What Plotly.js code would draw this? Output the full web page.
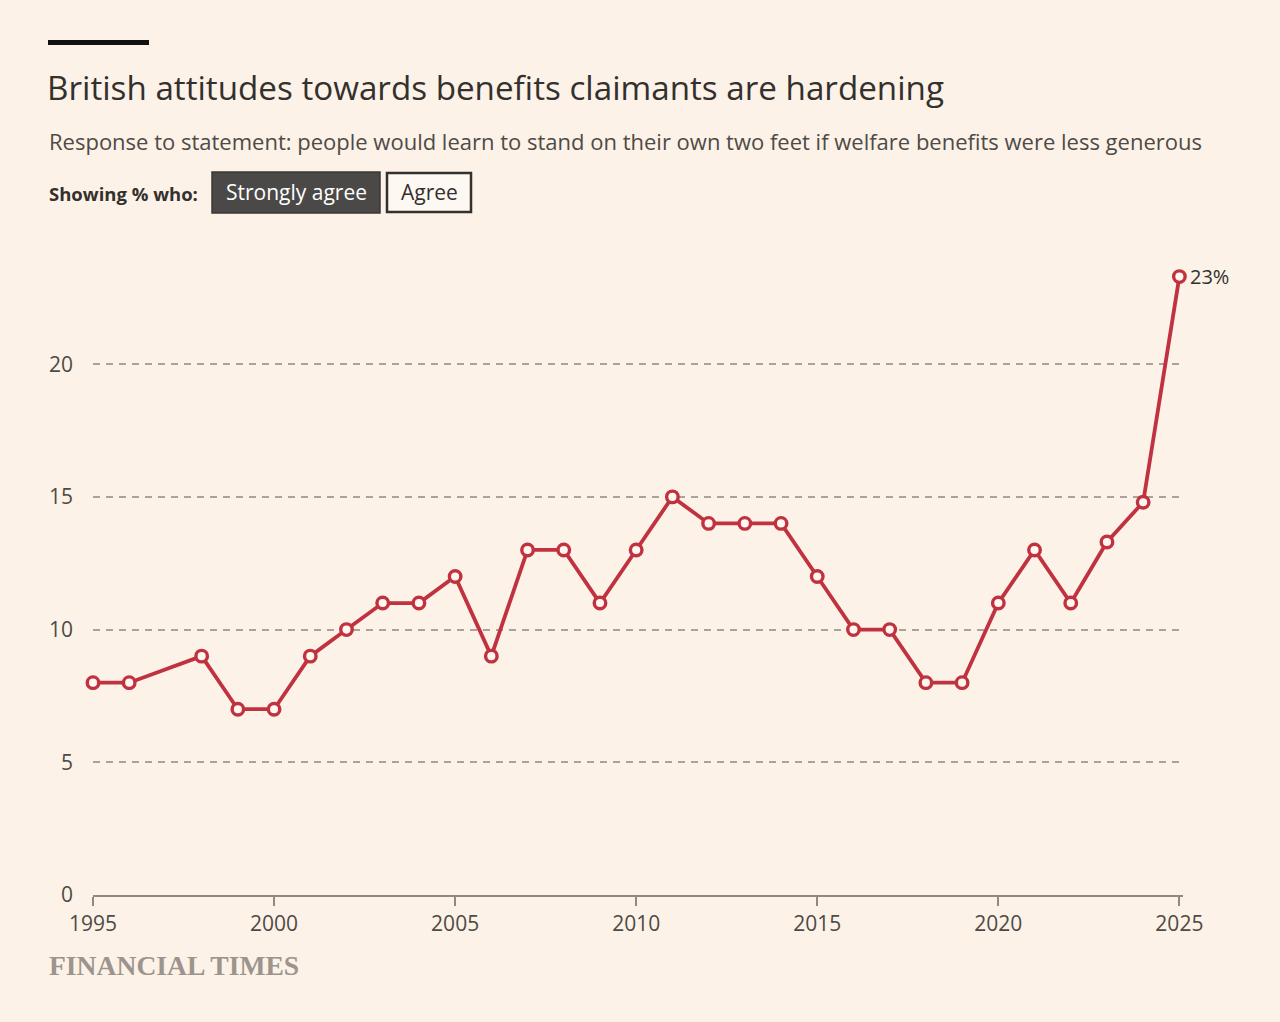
<!DOCTYPE html>
<html>
<head>
<meta charset="utf-8">
<script src="https://cdn.plot.ly/plotly-3.0.1.min.js"></script>
<style>
  html, body { margin: 0; padding: 0; background: #fcf2e7; }
  #chart { width: 1280px; height: 1022px; }
</style>
</head>
<body>
<div id="chart"></div>
<script>
// ---- Data ----
const years = [1995, 1996, 1998, 1999, 2000, 2001, 2002, 2003, 2004, 2005,
               2006, 2007, 2008, 2009, 2010, 2011, 2012, 2013, 2014, 2015,
               2016, 2017, 2018, 2019, 2020, 2021, 2022, 2023, 2024, 2025];
const stronglyAgree = [8, 8, 9, 7, 7, 9, 10, 11, 11, 12,
                       9, 13, 13, 11, 13, 15, 14, 14, 14, 12,
                       10, 10, 8, 8, 11, 13, 11, 13.3, 14.8, 23.3];
const yTickValues = [0, 5, 10, 15, 20];
const xTickValues = [1995, 2000, 2005, 2010, 2015, 2020, 2025];
const lastLabel = '23%';

// ---- Layout helpers ----
const W = 1280, H = 1022;
const M = { l: 93, r: 97, t: 258, b: 127 };
const PW = W - M.l - M.r, PH = H - M.t - M.b;
const px = X => (X - M.l) / PW;          // pixel x -> paper x
const py = Y => (H - M.b - Y) / PH;      // pixel y -> paper y

const red = '#c0323f';
const ink = '#33302e';
const bg = '#fcf2e7';
const sans = '"Open Sans", Lato, sans-serif';

const trace = {
  x: years,
  y: stronglyAgree,
  type: 'scatter',
  mode: 'lines+markers',
  line: { color: red, width: 3.8 },
  marker: { symbol: 'circle', size: 11.5, color: '#fff7f0', line: { color: red, width: 3.4 } },
  hoverinfo: 'x+y',
  cliponaxis: false
};

const layout = {
  width: W, height: H,
  paper_bgcolor: bg, plot_bgcolor: bg,
  margin: M,
  showlegend: false,
  font: { family: sans, color: ink },
  title: {
    text: 'British attitudes towards benefits claimants are hardening',
    font: { family: sans, size: 33.2, color: ink },
    xref: 'container', yref: 'container',
    x: 47 / W, xanchor: 'left',
    y: 1 - 88 / H, yanchor: 'middle'
  },
  xaxis: {
    range: [1995, 2025.1],
    tickvals: xTickValues,
    ticktext: xTickValues.map(String),
    showgrid: false, zeroline: false,
    showline: true, linecolor: '#8f8983', linewidth: 2,
    ticks: 'outside', ticklen: 9, tickwidth: 2, tickcolor: '#8f8983',
    tickfont: { family: sans, size: 21, color: '#4f4a46' },
    fixedrange: true
  },
  yaxis: {
    range: [0, 24],
    tickvals: yTickValues,
    ticktext: yTickValues.map(String),
    showgrid: true, gridcolor: '#aaa39c', gridwidth: 1.5, griddash: '7px,6px',
    zeroline: false, showline: false,
    ticks: '', ticklabelstandoff: 19,
    tickfont: { family: sans, size: 21, color: '#4f4a46' },
    fixedrange: true
  },
  shapes: [
    { type: 'rect', xref: 'paper', yref: 'paper',
      x0: px(48), x1: px(149), y0: py(45), y1: py(40),
      fillcolor: '#111', line: { width: 0 } },
    { type: 'rect', xref: 'paper', yref: 'paper',
      x0: px(212), x1: px(380), y0: py(213), y1: py(172),
      fillcolor: '#4b4947', line: { color: '#3a3836', width: 1.5 } },
    { type: 'rect', xref: 'paper', yref: 'paper',
      x0: px(387), x1: px(471), y0: py(212), y1: py(173),
      fillcolor: '#fef8f2', line: { color: ink, width: 2.5 } }
  ],
  annotations: [
    { xref: 'paper', yref: 'paper', x: px(47), y: py(141),
      xanchor: 'left', yanchor: 'middle', showarrow: false,
      text: 'Response to statement: people would learn to stand on their own two feet if welfare benefits were less generous',
      font: { size: 22, color: '#4f4a46' } },
    { xref: 'paper', yref: 'paper', x: px(47), y: py(193),
      xanchor: 'left', yanchor: 'middle', showarrow: false,
      text: '<b>Showing % who:</b>',
      font: { size: 18.5, color: ink } },
    { xref: 'paper', yref: 'paper', x: px(296), y: py(192),
      xanchor: 'center', yanchor: 'middle', showarrow: false,
      text: 'Strongly agree',
      font: { size: 21, color: '#ffffff' } },
    { xref: 'paper', yref: 'paper', x: px(429), y: py(192),
      xanchor: 'center', yanchor: 'middle', showarrow: false,
      text: 'Agree',
      font: { size: 21, color: ink } },
    { xref: 'x', yref: 'y', x: years[years.length - 1], y: stronglyAgree[stronglyAgree.length - 1],
      xanchor: 'left', yanchor: 'middle', xshift: 9, showarrow: false,
      text: lastLabel,
      font: { size: 20, color: ink } },
    { xref: 'paper', yref: 'paper', x: px(47), y: py(965),
      xanchor: 'left', yanchor: 'middle', showarrow: false,
      text: '<b>FINANCIAL TIMES</b>',
      font: { family: '"Liberation Serif", "DejaVu Serif", serif', size: 27.6, color: '#9d958d' } }
  ]
};

Plotly.newPlot('chart', [trace], layout, { displayModeBar: false });
</script>
</body>
</html>
